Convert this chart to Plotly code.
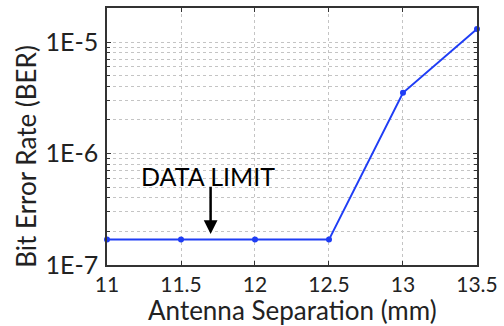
import plotly.graph_objects as go
import numpy as np

sep_mm = [11, 11.5, 12, 12.5, 13, 13.5]
ber = [1.69e-7, 1.69e-7, 1.69e-7, 1.69e-7, 3.5e-6, 1.31e-5]
x_ticks = [11, 11.5, 12, 12.5, 13, 13.5]
x_ticklabels = ["11", "11.5", "12", "12.5", "13", "13.5"]
y_ticks = [1e-7, 1e-6, 1e-5]
y_ticklabels = ["1E-7", "1E-6", "1E-5"]

FONT = "Lato"

fig = go.Figure()
fig.add_trace(go.Scatter(
    x=sep_mm, y=ber, mode="lines+markers",
    line=dict(color="#1f3df5", width=2),
    marker=dict(color="#1f3df5", size=6),
    showlegend=False, cliponaxis=False,
))

fig.add_annotation(
    x=11.7, y=np.log10(1.9e-7), ax=11.7, ay=np.log10(5.2e-7),
    xref="x", yref="y", axref="x", ayref="y",
    showarrow=True, arrowhead=2, arrowsize=1.1, arrowwidth=2.5, arrowcolor="black",
    text="",
)
fig.add_annotation(
    x=11.68, y=np.log10(6.3e-7), xref="x", yref="y",
    text="DATA LIMIT", showarrow=False,
    font=dict(family=FONT, size=25, color="black"),
)
# axis titles
fig.add_annotation(
    x=0.5, y=-0.176, xref="paper", yref="paper", xanchor="center", yanchor="middle",
    text="Antenna Separation (mm)", showarrow=False,
    font=dict(family=FONT, size=26, color="#222"),
)
fig.add_annotation(
    x=-0.219, y=0.425, xref="paper", yref="paper", xanchor="center", yanchor="middle",
    text="Bit Error Rate (BER)", showarrow=False, textangle=-90,
    font=dict(family=FONT, size=26, color="#222"),
)

grid = "#c4c4c4"
fig.update_layout(
    width=504, height=326,
    margin=dict(l=107, r=18, t=6, b=61),
    paper_bgcolor="white", plot_bgcolor="white",
    font=dict(family=FONT, size=21, color="#222"),
)
fig.update_xaxes(
    range=[11, 13.5001], tickvals=x_ticks, ticktext=x_ticklabels,
    ticklabeloverflow="allow",
    showline=True, linecolor="#333", linewidth=1.5, mirror="ticks",
    showgrid=True, gridcolor=grid, griddash="dot", gridwidth=1,
    ticks="inside", ticklen=4, tickcolor="#333",
    tickfont=dict(family=FONT, size=21),
    zeroline=False,
)
fig.update_yaxes(
    type="log", range=[-7, -4.695], tickvals=y_ticks, ticktext=y_ticklabels,
    showline=True, linecolor="#333", linewidth=1.5, mirror="ticks",
    showgrid=True, gridcolor=grid, griddash="dot", gridwidth=1,
    ticks="inside", ticklen=4, tickcolor="#333",
    tickfont=dict(family=FONT, size=25),
    ticklabelstandoff=2,
    minor=dict(dtick="D1", showgrid=True, gridcolor=grid, griddash="dot",
               ticks="inside", ticklen=3, tickcolor="#333"),
    zeroline=False,
)

fig.write_html("out.html")
